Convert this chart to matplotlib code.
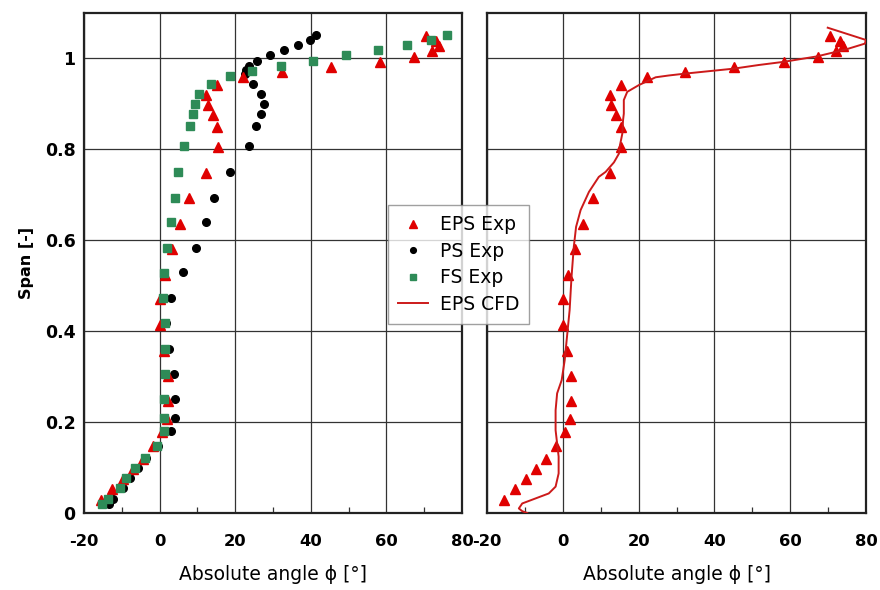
import matplotlib
matplotlib.use("Agg")
import matplotlib.pyplot as plt
from matplotlib.ticker import MultipleLocator, FuncFormatter

# ---- data ----
eps_x = [70.6, 73.2, 73.9, 72.0, 67.4, 58.4, 45.3, 32.3, 22.1, 15.3, 12.4, 12.7, 14.0, 15.3, 15.4,
         12.4, 7.9, 5.4, 3.3, 1.4, 0.0, 0.0, 1.1, 2.2, 2.2, 2.0, 0.7, -1.7, -4.4, -7.0, -9.6, -12.7, -15.6]
eps_y = [1.048, 1.038, 1.027, 1.016, 1.002, 0.991, 0.980, 0.969, 0.958, 0.941, 0.919, 0.897, 0.875, 0.848, 0.804,
         0.748, 0.692, 0.636, 0.581, 0.524, 0.470, 0.413, 0.356, 0.302, 0.247, 0.206, 0.178, 0.147, 0.118, 0.096, 0.074, 0.052, 0.029]

ps_x = [41.5, 39.7, 36.5, 32.8, 29.1, 25.8, 23.7, 22.9, 22.7, 24.7, 26.8, 27.5, 26.7, 25.6, 23.6, 18.5,
        14.3, 12.2, 9.5, 6.2, 3.1, 1.6, 2.4, 3.9, 4.2, 4.2, 3.0, -0.3, -3.5, -5.6, -7.9, -9.7, -12.2, -13.5]
ps_y = [1.051, 1.040, 1.029, 1.018, 1.007, 0.993, 0.983, 0.974, 0.965, 0.943, 0.921, 0.900, 0.878, 0.851, 0.807, 0.750,
        0.693, 0.639, 0.583, 0.529, 0.472, 0.417, 0.360, 0.305, 0.250, 0.209, 0.181, 0.147, 0.120, 0.098, 0.076, 0.056, 0.031, 0.019]

fs_x = [75.9, 71.7, 65.5, 57.8, 49.4, 40.5, 32.1, 24.5, 18.7, 13.6, 10.4, 9.3, 8.8, 8.1, 6.5, 4.9,
        4.2, 3.1, 2.0, 1.2, 0.9, 1.3, 1.5, 1.5, 1.1, 1.1, 1.1, -0.7, -3.8, -6.4, -8.8, -10.5, -13.7, -15.2]
fs_y = [1.051, 1.040, 1.029, 1.018, 1.008, 0.993, 0.983, 0.972, 0.960, 0.943, 0.921, 0.900, 0.878, 0.851, 0.807, 0.750,
        0.693, 0.639, 0.583, 0.528, 0.472, 0.417, 0.360, 0.305, 0.250, 0.209, 0.181, 0.147, 0.120, 0.098, 0.076, 0.055, 0.031, 0.019]

cfd_x = [-9.4, -10.7, -11.6, -10.7, -7.2, -3.7, -1.9, -1.1, -1.1, -1.5, -1.9, -1.9, -1.5, -0.3, 0.5, 1.1,
         1.8, 2.3, 2.9, 3.5, 4.7, 6.9, 9.5, 11.3, 13.5, 14.8, 15.0, 15.7, 15.9, 16.1, 16.1, 16.1, 17.0,
         20.1, 24.5, 28.0, 32.2, 45.1, 51.7, 58.3, 67.1, 74.6, 79.7, 80.0, 69.9]
cfd_y = [0.0, 0.004, 0.010, 0.021, 0.032, 0.043, 0.058, 0.087, 0.124, 0.153, 0.182, 0.226, 0.263, 0.292, 0.336, 0.387,
         0.446, 0.519, 0.585, 0.629, 0.666, 0.706, 0.739, 0.750, 0.771, 0.790, 0.805, 0.834, 0.864, 0.878, 0.893, 0.908, 0.926,
         0.941, 0.958, 0.962, 0.966, 0.977, 0.985, 0.992, 1.004, 1.019, 1.032, 1.040, 1.067]

x_ticks = [-20, 0, 20, 40, 60, 80]
y_ticks = [0, 0.2, 0.4, 0.6, 0.8, 1.0]

RED = "#e00000"
GREEN = "#2e8b57"
CFD_RED = "#cc1a1a"

plt.rcParams['font.family'] = ['DejaVu Sans']
plt.rcParams['axes.unicode_minus'] = False

fig = plt.figure(figsize=(8.8, 5.9), dpi=100)
ax1 = fig.add_axes([84/880, 1-513/590, (462-84)/880, (513-12.7)/590])
ax2 = fig.add_axes([487/880, 1-513/590, (866-487)/880, (513-12.7)/590])


def style(ax, ylabels):
    ax.set_xlim(-20, 80)
    ax.set_ylim(0, 1.1)
    ax.set_xticks(x_ticks)
    ax.set_yticks(y_ticks)
    ax.xaxis.set_minor_locator(MultipleLocator(10))
    ax.grid(True, which='major', color='#333333', linewidth=0.9)
    ax.set_axisbelow(True)
    for s in ax.spines.values():
        s.set_linewidth(1.6)
        s.set_color('#222222')
    ax.tick_params(axis='x', which='major', direction='in', length=0, pad=15,
                   labelsize=11.8)
    ax.tick_params(axis='x', which='minor', direction='in', length=4, width=0.9, color='#333333')
    ax.tick_params(axis='y', which='major', direction='in', length=0, pad=6, labelsize=12.5,
                   labelleft=ylabels)
    for lab in ax.get_xticklabels() + ax.get_yticklabels():
        lab.set_fontweight('bold')
    ax.yaxis.set_major_formatter(FuncFormatter(lambda v, p: f"{v:g}"))
    ax.set_xlabel("Absolute angle ϕ [°]", fontsize=13.5, labelpad=12)


style(ax1, True)
style(ax2, False)
ax1.set_ylabel("Span [-]", fontsize=11.5, fontweight='bold', labelpad=8)

h1, = ax1.plot(eps_x, eps_y, linestyle='none', marker='^', ms=7, color=RED, zorder=3, label='EPS Exp')
h2, = ax1.plot(ps_x, ps_y, linestyle='none', marker='o', ms=5.5, color='black', zorder=2.5, label='PS Exp')
h3, = ax1.plot(fs_x, fs_y, linestyle='none', marker='s', ms=5.2, color=GREEN, zorder=4, label='FS Exp')

ax2.plot(eps_x, eps_y, linestyle='none', marker='^', ms=7, color=RED, zorder=3)
h4, = ax2.plot(cfd_x, cfd_y, color=CFD_RED, linewidth=1.4, zorder=4, label='EPS CFD')

leg = fig.legend([h1, h2, h3, h4], ['EPS Exp', 'PS Exp', 'FS Exp', 'EPS CFD'],
                 loc='upper left', bbox_to_anchor=(388/880, 1-205/590), borderaxespad=0,
                 fontsize=13.5, frameon=True, fancybox=False, markerscale=0.75,
                 handlelength=1.6, handletextpad=0.6, borderpad=0.55, labelspacing=0.4)
leg.get_frame().set_edgecolor('#888888')
leg.get_frame().set_linewidth(1.0)

fig.savefig("out.png", dpi=100)
